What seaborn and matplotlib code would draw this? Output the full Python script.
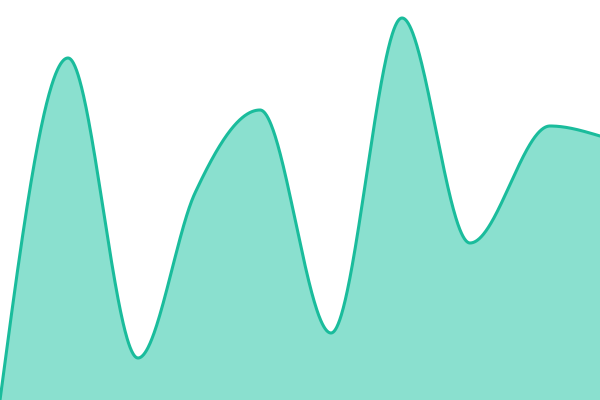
import numpy as np
import pandas as pd
import matplotlib
matplotlib.use("Agg")
import matplotlib.pyplot as plt
import seaborn as sns

# Data points (x position, value)
x_points = [0, 68, 138, 195, 260, 331, 402, 470, 550, 600]
values = [0, 342, 42, 207, 290, 67, 382, 157, 274, 264]


def monotone_curve(x, y, n=1200):
    # monotone cubic through the data points (d3-style slopes)
    x = np.asarray(x, float)
    y = np.asarray(y, float)
    h = np.diff(x)
    d = np.diff(y) / h
    m = np.zeros_like(y)
    for i in range(1, len(y) - 1):
        s0, s1 = d[i - 1], d[i]
        p = (s0 * h[i] + s1 * h[i - 1]) / (h[i - 1] + h[i])
        m[i] = (np.sign(s0) + np.sign(s1)) * min(abs(s0), abs(s1), 0.5 * abs(p))
    m[0] = (3 * d[0] - m[1]) / 2
    m[-1] = (3 * d[-1] - m[-2]) / 2
    xs = np.linspace(x[0], x[-1], n)
    idx = np.clip(np.searchsorted(x, xs) - 1, 0, len(h) - 1)
    t = (xs - x[idx]) / h[idx]
    h00 = 2 * t**3 - 3 * t**2 + 1
    h10 = t**3 - 2 * t**2 + t
    h01 = -2 * t**3 + 3 * t**2
    h11 = t**3 - t**2
    ys = h00 * y[idx] + h10 * h[idx] * m[idx] + h01 * y[idx + 1] + h11 * h[idx] * m[idx + 1]
    return xs, ys


xs, ys = monotone_curve(x_points, values)
df = pd.DataFrame({"x": xs, "y": ys})

sns.set_style("white")
fig = plt.figure(figsize=(6, 4), dpi=100)
ax = fig.add_axes([0, 0, 1, 1])

line_color = "#1abc9c"
fill_color = "#8ae0cf"
ax.fill_between(df["x"], df["y"], 0, color=fill_color, linewidth=0)
sns.lineplot(data=df, x="x", y="y", ax=ax, color=line_color, linewidth=2.2, sort=False)

ax.set_xlim(0, 600)
ax.set_ylim(0, 400)
ax.axis("off")

fig.savefig("out.png", dpi=100)
